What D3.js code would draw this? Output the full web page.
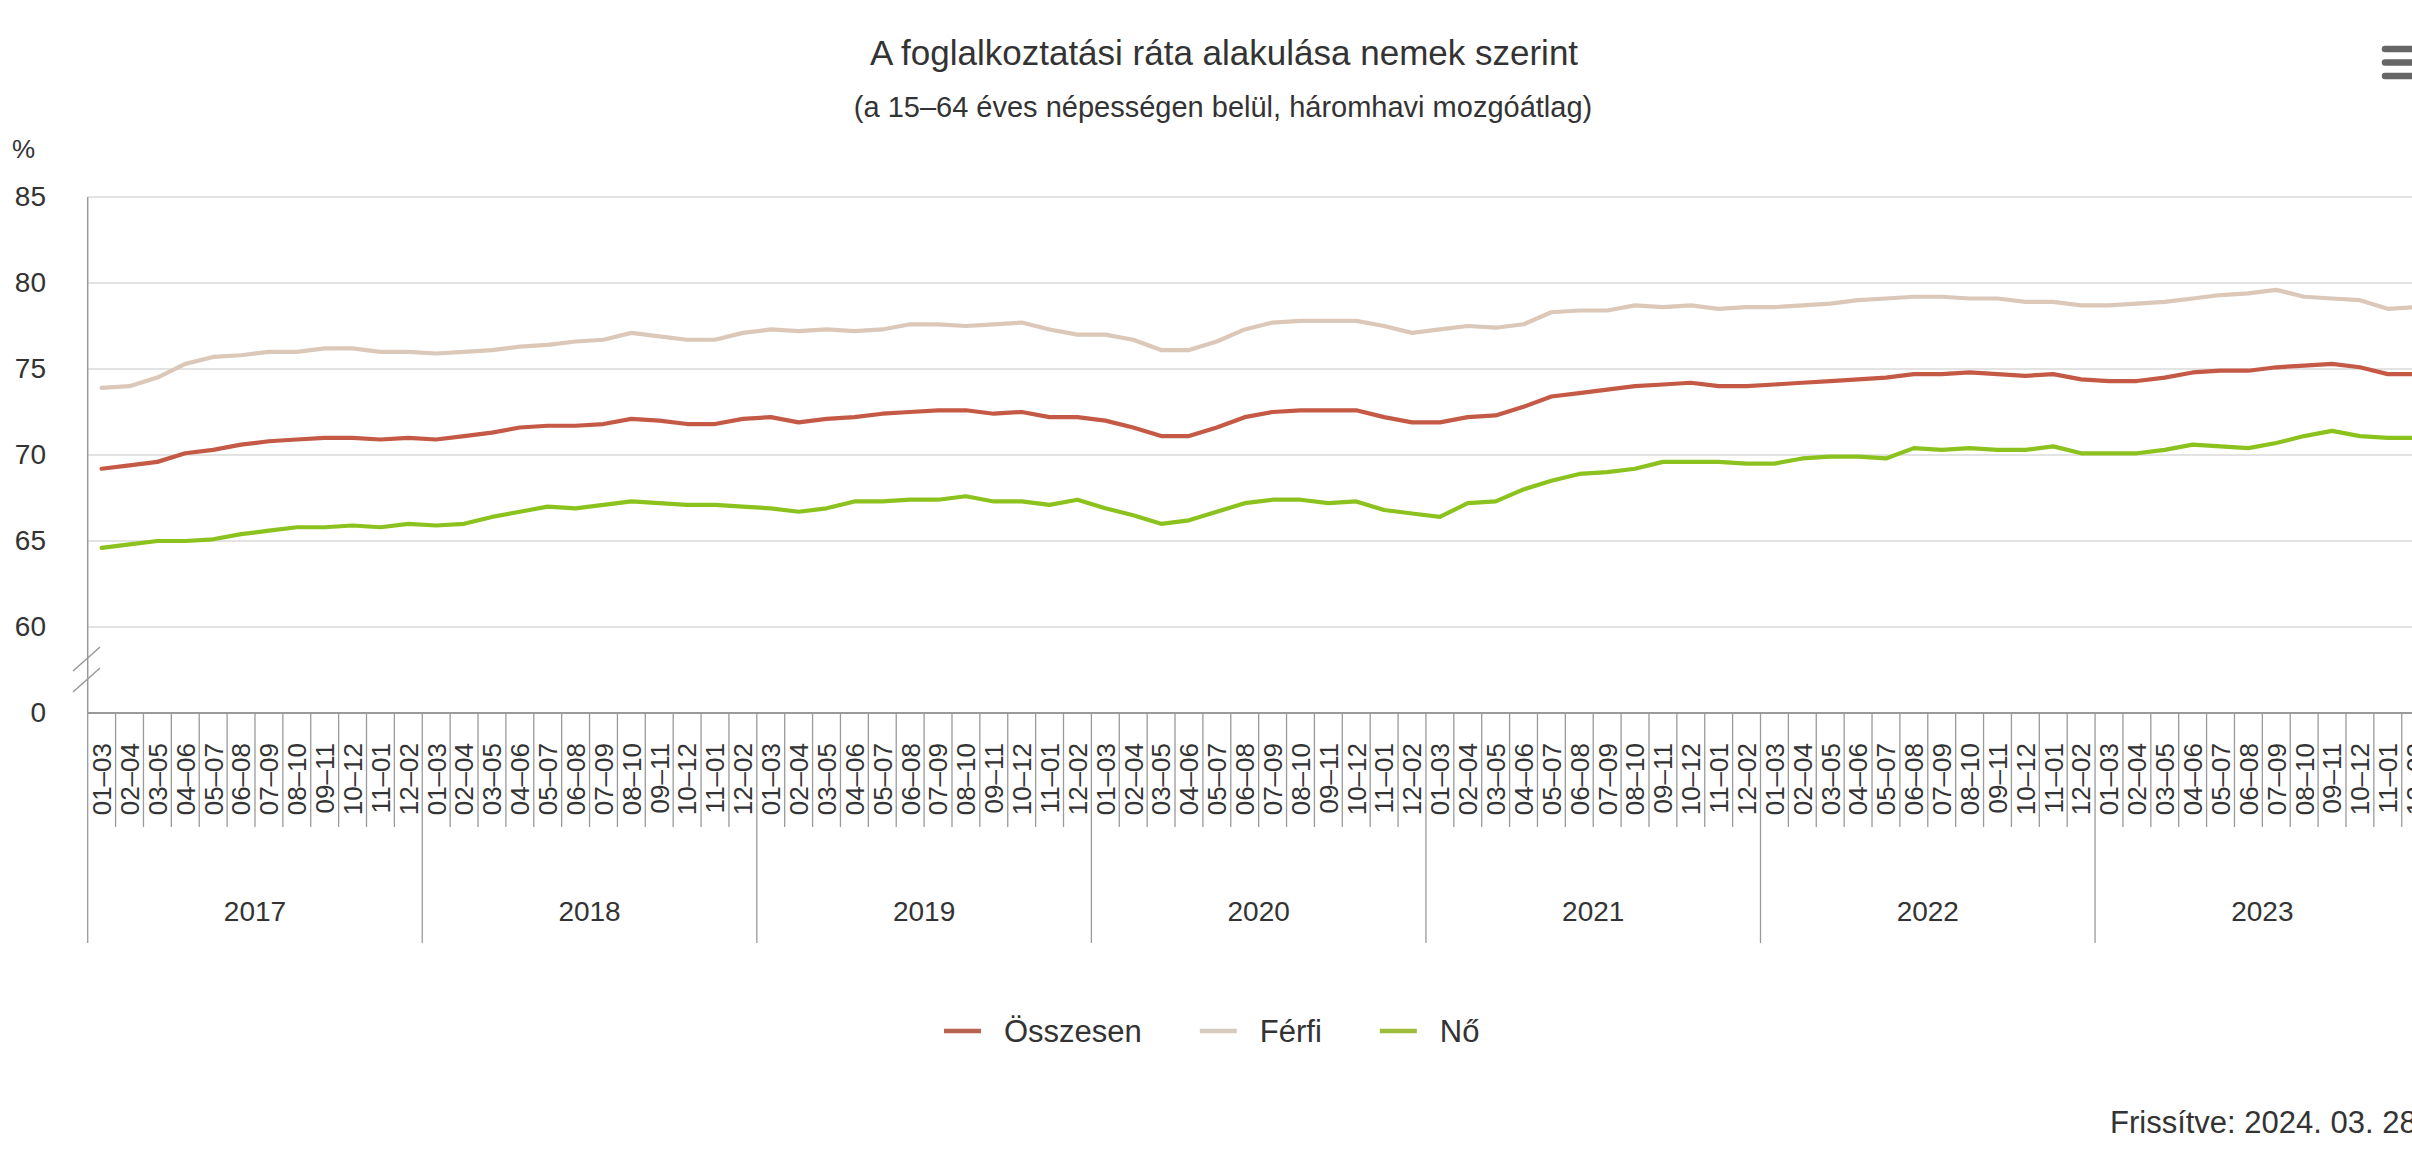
<!DOCTYPE html>
<html>
<head>
<meta charset="utf-8">
<script src="https://cdn.jsdelivr.net/npm/d3@7"></script>
<style>
  html, body { margin: 0; padding: 0; background: #fff; overflow: hidden; }
  svg { display: block; font-family: "Liberation Sans", Arial, sans-serif; }
  .grid line { stroke: #dadada; stroke-width: 1.5; }
  .axis-text { fill: #333; font-size: 28px; }
</style>
</head>
<body>
<svg id="chart" width="2412" height="1167"></svg>
<script>

////////////////////////// DATA //////////////////////////

const years = [2017, 2018, 2019, 2020, 2021, 2022, 2023]
const periods = ['01–03', '02–04', '03–05', '04–06', '05–07', '06–08',
                 '07–09', '08–10', '09–11', '10–12', '11–01', '12–02']

// yTicks: 55 stands for the broken "0" at the bottom of the axis
const yTicks = [55, 60, 65, 70, 75, 80, 85]

const osszesen = [
  69.2, 69.4, 69.6, 70.1, 70.3, 70.6, 70.8, 70.9, 71.0, 71.0, 70.9, 71.0,
  70.9, 71.1, 71.3, 71.6, 71.7, 71.7, 71.8, 72.1, 72.0, 71.8, 71.8, 72.1,
  72.2, 71.9, 72.1, 72.2, 72.4, 72.5, 72.6, 72.6, 72.4, 72.5, 72.2, 72.2,
  72.0, 71.6, 71.1, 71.1, 71.6, 72.2, 72.5, 72.6, 72.6, 72.6, 72.2, 71.9,
  71.9, 72.2, 72.3, 72.8, 73.4, 73.6, 73.8, 74.0, 74.1, 74.2, 74.0, 74.0,
  74.1, 74.2, 74.3, 74.4, 74.5, 74.7, 74.7, 74.8, 74.7, 74.6, 74.7, 74.4,
  74.3, 74.3, 74.5, 74.8, 74.9, 74.9, 75.1, 75.2, 75.3, 75.1, 74.7, 74.7
]

const ferfi = [
  73.9, 74.0, 74.5, 75.3, 75.7, 75.8, 76.0, 76.0, 76.2, 76.2, 76.0, 76.0,
  75.9, 76.0, 76.1, 76.3, 76.4, 76.6, 76.7, 77.1, 76.9, 76.7, 76.7, 77.1,
  77.3, 77.2, 77.3, 77.2, 77.3, 77.6, 77.6, 77.5, 77.6, 77.7, 77.3, 77.0,
  77.0, 76.7, 76.1, 76.1, 76.6, 77.3, 77.7, 77.8, 77.8, 77.8, 77.5, 77.1,
  77.3, 77.5, 77.4, 77.6, 78.3, 78.4, 78.4, 78.7, 78.6, 78.7, 78.5, 78.6,
  78.6, 78.7, 78.8, 79.0, 79.1, 79.2, 79.2, 79.1, 79.1, 78.9, 78.9, 78.7,
  78.7, 78.8, 78.9, 79.1, 79.3, 79.4, 79.6, 79.2, 79.1, 79.0, 78.5, 78.6
]

const no = [
  64.6, 64.8, 65.0, 65.0, 65.1, 65.4, 65.6, 65.8, 65.8, 65.9, 65.8, 66.0,
  65.9, 66.0, 66.4, 66.7, 67.0, 66.9, 67.1, 67.3, 67.2, 67.1, 67.1, 67.0,
  66.9, 66.7, 66.9, 67.3, 67.3, 67.4, 67.4, 67.6, 67.3, 67.3, 67.1, 67.4,
  66.9, 66.5, 66.0, 66.2, 66.7, 67.2, 67.4, 67.4, 67.2, 67.3, 66.8, 66.6,
  66.4, 67.2, 67.3, 68.0, 68.5, 68.9, 69.0, 69.2, 69.6, 69.6, 69.6, 69.5,
  69.5, 69.8, 69.9, 69.9, 69.8, 70.4, 70.3, 70.4, 70.3, 70.3, 70.5, 70.1,
  70.1, 70.1, 70.3, 70.6, 70.5, 70.4, 70.7, 71.1, 71.4, 71.1, 71.0, 71.0
]

const seriesNames = ['Összesen', 'Férfi', 'Nő']
const seriesColors = ['#c45a45', '#dcc8b8', '#8cc21e']
const legendColors = ['#b7634f', '#d6c9bd', '#9ebd3c']


////////////////////////// SETUP //////////////////////////

const svg = d3.select('#chart')

const left = 87.7
const monthWidth = 27.88
const axisY = 713
const topY = 197

// one key per month window
const keys = []
years.forEach(y => periods.forEach(p => keys.push(`${y} ${p}`)))

const xScale = d3.scaleBand()
  .domain(keys)
  .range([left, left + keys.length * monthWidth])
  .padding(0)

const yScale = d3.scaleLinear()
  .domain([55, 85])
  .range([axisY, topY])

const xCenter = (k) => xScale(k) + xScale.bandwidth() / 2


////////////////////////// TITLES //////////////////////////

svg.append('text')
  .attr('x', 1224).attr('y', 65)
  .attr('text-anchor', 'middle')
  .style('font-size', '35px').style('fill', '#333')
  .text('A foglalkoztatási ráta alakulása nemek szerint')

svg.append('text')
  .attr('x', 1223).attr('y', 117)
  .attr('text-anchor', 'middle')
  .style('font-size', '29px').style('fill', '#333')
  .text('(a 15–64 éves népességen belül, háromhavi mozgóátlag)')

svg.append('text')
  .attr('x', 12).attr('y', 158)
  .style('font-size', '26px').style('fill', '#333')
  .text('%')

// menu icon (cut at the right edge)
svg.selectAll('.menu-bar')
  .data([49, 62.5, 76])
  .enter()
  .append('line')
  .attr('x1', 2385).attr('x2', 2430)
  .attr('y1', d => d).attr('y2', d => d)
  .style('stroke', '#666').style('stroke-width', 6.5)
  .style('stroke-linecap', 'round')


////////////////////////// AXES //////////////////////////

// grid
svg.append('g')
  .attr('class', 'grid')
  .selectAll('line')
  .data(yTicks.filter(t => t !== 55))
  .enter()
  .append('line')
  .attr('x1', left).attr('x2', 2412)
  .attr('y1', d => yScale(d)).attr('y2', d => yScale(d))

// y axis labels
const yAxis = d3.axisLeft(yScale)
  .tickValues(yTicks)
  .tickFormat(d => d === 55 ? '0' : d)
  .tickSize(0)
  .tickPadding(left - 46)

svg.append('g')
  .attr('transform', `translate(${left},0)`)
  .call(yAxis)
  .call(g => g.select('.domain').remove())
  .selectAll('text')
    .attr('class', 'axis-text')
    .style('font-family', '"Liberation Sans", Arial, sans-serif')

// y axis line
svg.append('line')
  .attr('x1', left).attr('x2', left)
  .attr('y1', topY).attr('y2', axisY)
  .style('stroke', '#9a9a9a').style('stroke-width', 1.5)

// axis break marks
svg.selectAll('.break')
  .data([0, 21])
  .enter()
  .append('line')
  .attr('x1', 73).attr('x2', 100)
  .attr('y1', d => 671 + d).attr('y2', d => 647 + d)
  .style('stroke', '#9a9a9a').style('stroke-width', 1.5)

// x axis line
svg.append('line')
  .attr('x1', left).attr('x2', 2412)
  .attr('y1', axisY).attr('y2', axisY)
  .style('stroke', '#9a9a9a').style('stroke-width', 2)

// month ticks on category boundaries
svg.selectAll('.month-tick')
  .data(keys)
  .enter()
  .append('line')
  .attr('x1', d => xScale(d)).attr('x2', d => xScale(d))
  .attr('y1', axisY)
  .attr('y2', (d, i) => i % 12 === 0 ? 943 : 827)
  .style('stroke', '#9a9a9a').style('stroke-width', 1.3)

// month labels
const xAxis = d3.axisBottom(xScale)
  .tickFormat(d => d.split(' ')[1])
  .tickSize(0)

svg.append('g')
  .attr('transform', `translate(0,${axisY})`)
  .call(xAxis)
  .call(g => g.select('.domain').remove())
  .selectAll('text')
    .attr('class', 'axis-text')
    .style('font-family', '"Liberation Sans", Arial, sans-serif')
    .style('font-size', '26px')
    .attr('transform', 'rotate(-90)')
    .attr('text-anchor', 'end')
    .attr('x', -30)
    .attr('y', 0)
    .attr('dy', '0.36em')

// year labels
svg.selectAll('.year-label')
  .data(years)
  .enter()
  .append('text')
  .attr('class', 'axis-text')
  .attr('x', (d) => (xScale(`${d} ${periods[0]}`) + xScale(`${d} ${periods[11]}`) + xScale.bandwidth()) / 2)
  .attr('y', 921)
  .attr('text-anchor', 'middle')
  .text(d => d)


////////////////////////// LINES //////////////////////////

const line = d3.line()
  .x((d, i) => xCenter(keys[i]))
  .y(d => yScale(d))

const seriesData = [osszesen, ferfi, no]

// draw Férfi first, then Nő, then Összesen on top
;[1, 2, 0].forEach(idx => {
  svg.append('path')
    .datum(seriesData[idx])
    .attr('d', line)
    .style('fill', 'none')
    .style('stroke', seriesColors[idx])
    .style('stroke-width', 4.2)
    .style('stroke-linejoin', 'round')
    .style('stroke-linecap', 'round')
})


////////////////////////// LEGEND //////////////////////////

const legend = svg.append('g')
let lx = 944
seriesNames.forEach((name, i) => {
  legend.append('line')
    .attr('x1', lx).attr('x2', lx + 37)
    .attr('y1', 1031).attr('y2', 1031)
    .style('stroke', legendColors[i]).style('stroke-width', 4.5)
  const t = legend.append('text')
    .attr('x', lx + 60).attr('y', 1042)
    .style('font-size', '31px').style('fill', '#333')
    .text(name)
  lx += 60 + t.node().getComputedTextLength() + 58
})

// update date (cut at the right edge)
svg.append('text')
  .attr('x', 2110).attr('y', 1133)
  .style('font-size', '31px').style('fill', '#333')
  .text('Frissítve: 2024. 03. 28.')

</script>
</body>
</html>
